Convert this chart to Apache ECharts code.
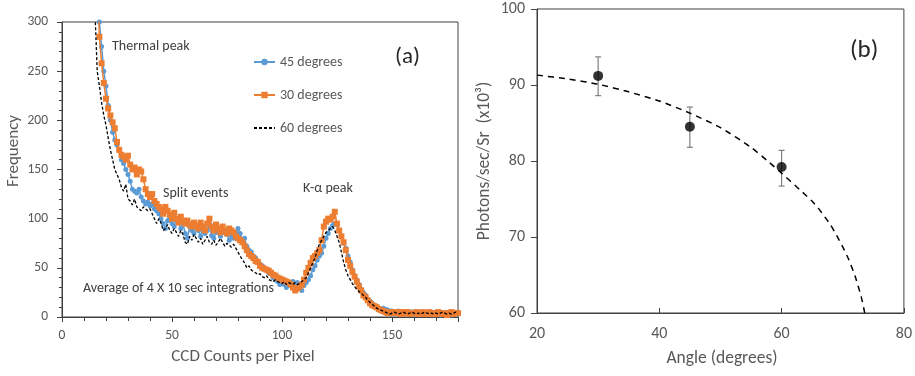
<!DOCTYPE html>
<html><head><meta charset="utf-8">
<script src="https://cdn.jsdelivr.net/npm/echarts@6/dist/echarts.min.js"></script>
<style>html,body{margin:0;padding:0;background:#fff}#c{width:915px;height:376px}</style>
</head><body><div id="c"></div>
<script>
// ---- Panel (a) data: x = CCD counts, starting at xStart, step 1 ----
const xStart = 15;
const deg45 = [null,330,300,275,250,235,215,200,188,180,175,170,160,156,150,145,138,130,128,126,130,122,118,115,117,113,115,110,108,105,100,95,90,98,100,95,92,100,97,90,95,85,80,92,88,85,93,88,82,90,85,88,95,83,80,86,90,82,86,88,84,78,83,80,86,90,85,78,80,72,68,66,62,60,56,54,52,50,48,45,44,40,38,36,33,35,33,30,34,32,36,33,35,30,27,32,35,38,42,48,52,58,62,65,72,80,85,90,93,95,94,88,82,75,70,62,56,48,42,38,33,28,25,22,18,16,14,12,10,9,8,9,8,7,6,6,5,5,6,5,4,5,4,3,5,4,3,5,4,3,4,3,4,3,2,4,3,2,4,3,2,3,2,3,4,3];
const deg30 = [null,340,285,258,238,222,212,205,198,192,178,170,165,163,160,164,155,150,152,145,150,148,140,130,125,122,125,118,115,112,110,105,112,108,104,100,106,100,96,102,98,95,98,94,92,96,93,90,96,92,88,95,100,92,88,94,90,86,92,88,85,90,88,86,82,80,78,76,72,68,64,62,60,57,56,52,50,49,48,47,45,43,42,40,39,38,37,36,35,33,30,27,29,31,33,38,45,50,55,60,62,65,68,78,92,97,100,99,102,107,95,88,82,76,68,58,52,46,41,36,31,27,22,20,17,14,12,11,10,8,7,6,5,4,5,4,5,4,5,3,5,4,5,3,4,4,5,3,4,5,3,4,5,3,4,3,5,4,3,4,2,4,5,3,4,4];
const deg60 = [310,250,235,218,205,195,182,170,160,150,145,140,132,128,135,120,118,114,120,112,110,108,112,110,108,110,105,100,95,100,96,88,90,94,88,85,90,86,82,88,84,76,74,82,78,84,80,76,80,74,78,82,76,74,78,73,76,80,76,72,75,73,71,74,70,66,62,58,55,50,52,48,46,45,43,44,41,40,42,38,37,36,38,36,35,34,36,33,35,34,33,35,33,34,36,38,40,45,50,55,60,68,74,78,82,86,88,90,92,88,82,76,66,56,48,42,38,34,31,28,26,24,22,20,17,15,13,11,9,8,7,6,5,4,3,4,5,4,3,4,5,4,3,4,5,4,3,4,3,4,5,4,3,4,3,4,3,4,5,4,3,4,3,4,5,4];
const seriesNamesA = ['45 degrees','30 degrees','60 degrees'];

// ---- Panel (b) data ----
const angles = [30,45,60];
const photons = [91.2,84.5,79.2];
const errLow = [88.6,81.8,76.7];
const errHigh = [93.7,87.1,81.4];
const fitAngles = [20,25,30,35,40,45,50,55,58,60,63,65,66,68,69,70,71,72,73,73.6];
const fitValues = [91.3,90.8,90.1,89.1,87.9,86.3,84.4,81.8,79.8,78.4,76.2,74.7,73.8,71.6,70.2,68.7,67.0,64.9,62.2,60.0];

function pairs(vals){ return vals.map((v,i)=>[xStart+i, v]); }

const font = 'Carlito, Calibri, Lato, "Noto Sans", sans-serif';
const txt = '#595959';
const dark = '#404040';
const chart = echarts.init(document.getElementById('c'), null, {renderer:'canvas'});

chart.setOption({
  animation:false,
  textStyle:{fontFamily:font},
  grid:[
    {left:62, top:22, width:396, height:295, show:true, borderColor:dark, borderWidth:1},
    {left:537, top:9, width:370, height:304, show:true, borderColor:dark, borderWidth:1}
  ],
  xAxis:[
    {gridIndex:0, type:'value', min:0, max:180, interval:50,
     axisLine:{lineStyle:{color:dark}},
     axisTick:{show:true, inside:false, length:5, lineStyle:{color:dark}},
     minorTick:{show:true, splitNumber:5, length:4, lineStyle:{color:dark}},
     axisLabel:{fontSize:13.5, color:txt, showMaxLabel:false, margin:12, fontFamily:font},
     splitLine:{show:false}},
    {gridIndex:1, type:'value', min:20, max:80, interval:20,
     axisLine:{lineStyle:{color:dark}},
     axisTick:{show:true, inside:true, length:5, lineStyle:{color:dark}},
     axisLabel:{fontSize:16, color:txt, margin:13, fontFamily:font},
     splitLine:{show:false}}
  ],
  yAxis:[
    {gridIndex:0, type:'value', min:0, max:300, interval:50,
     axisLine:{show:true, lineStyle:{color:dark}},
     axisTick:{show:true, inside:false, length:5, lineStyle:{color:dark}},
     minorTick:{show:true, splitNumber:5, length:3, lineStyle:{color:dark}},
     axisLabel:{fontSize:13.5, color:txt, margin:14, fontFamily:font},
     splitLine:{show:false}},
    {gridIndex:1, type:'value', min:60, max:100, interval:10,
     axisLine:{show:true, lineStyle:{color:dark}},
     axisTick:{show:true, inside:false, length:6, lineStyle:{color:dark}},
     axisLabel:{fontSize:16, color:txt, margin:12, fontFamily:font},
     splitLine:{show:false}}
  ],
  legend:{
    left:248, top:50, orient:'vertical', itemGap:19, itemWidth:21, itemHeight:8,
    textStyle:{fontSize:14, color:txt, fontFamily:font},
    data:[
      {name:seriesNamesA[0]},
      {name:seriesNamesA[1]},
      {name:seriesNamesA[2], itemStyle:{color:'rgba(0,0,0,0)', borderWidth:0}}
    ]
  },
  graphic:[
    {type:'text', left:112, top:39, style:{text:'Thermal peak', fontSize:14, fill:dark, fontFamily:font}},
    {type:'text', left:163, top:186, style:{text:'Split events', fontSize:14, fill:dark, fontFamily:font}},
    {type:'text', left:303, top:181, style:{text:'K-α peak', fontSize:14, fill:dark, fontFamily:font}},
    {type:'text', left:83, top:281, style:{text:'Average of 4 X 10 sec integrations', fontSize:14, fill:dark, fontFamily:font}},
    {type:'text', left:395, top:46, style:{text:'(a)', fontSize:23, fill:'#262626', fontFamily:font}},
    {type:'text', left:850, top:38, style:{text:'(b)', fontSize:25, fill:'#262626', fontFamily:font}},
    {type:'text', x:14, y:151, rotation:Math.PI/2, style:{text:'Frequency', fontSize:17, fill:txt, fontFamily:font, align:'center', verticalAlign:'middle'}},
    {type:'text', x:243, y:357, style:{text:'CCD Counts per Pixel', fontSize:17, fill:txt, fontFamily:font, align:'center', verticalAlign:'middle'}},
    {type:'text', x:485, y:161, rotation:Math.PI/2, style:{text:'Photons/sec/Sr  (x10³)', fontSize:17.5, fill:txt, fontFamily:font, align:'center', verticalAlign:'middle'}},
    {type:'text', x:722, y:359, style:{text:'Angle (degrees)', fontSize:17.5, fill:txt, fontFamily:font, align:'center', verticalAlign:'middle'}}
  ],
  series:[
    {name:seriesNamesA[0], type:'line', xAxisIndex:0, yAxisIndex:0, data:pairs(deg45),
     symbol:'circle', symbolSize:5, clip:true,
     lineStyle:{color:'#5B9BD5', width:1.5}, itemStyle:{color:'#5B9BD5'}, z:3},
    {name:seriesNamesA[1], type:'line', xAxisIndex:0, yAxisIndex:0, data:pairs(deg30),
     symbol:'rect', symbolSize:6, clip:true,
     lineStyle:{color:'#ED7D31', width:1.5}, itemStyle:{color:'#ED7D31'}, z:4},
    {name:seriesNamesA[2], type:'line', xAxisIndex:0, yAxisIndex:0, data:pairs(deg60),
     symbol:'none', clip:true,
     lineStyle:{color:'#000', width:1.3, type:[3,2]}, itemStyle:{color:'#000'}, z:5},
    {type:'line', xAxisIndex:1, yAxisIndex:1, data:fitAngles.map((a,i)=>[a,fitValues[i]]),
     symbol:'none', smooth:0.2, clip:true,
     lineStyle:{color:'#000', width:1.5, type:[6,5]}},
    {type:'custom', xAxisIndex:1, yAxisIndex:1,
     data:angles.map((a,i)=>[a, errLow[i], errHigh[i]]),
     renderItem:function(params, api){
       const lo = api.coord([api.value(0), api.value(1)]);
       const hi = api.coord([api.value(0), api.value(2)]);
       const w = 3;
       const st = {stroke:'#7f7f7f', lineWidth:1.2};
       return {type:'group', children:[
         {type:'line', shape:{x1:lo[0], y1:lo[1], x2:hi[0], y2:hi[1]}, style:st},
         {type:'line', shape:{x1:lo[0]-w, y1:lo[1], x2:lo[0]+w, y2:lo[1]}, style:st},
         {type:'line', shape:{x1:hi[0]-w, y1:hi[1], x2:hi[0]+w, y2:hi[1]}, style:st}
       ]};
     }, z:2},
    {type:'scatter', xAxisIndex:1, yAxisIndex:1, data:angles.map((a,i)=>[a,photons[i]]),
     symbol:'circle', symbolSize:10, itemStyle:{color:'#000'}, z:4}
  ]
});
</script></body></html>
